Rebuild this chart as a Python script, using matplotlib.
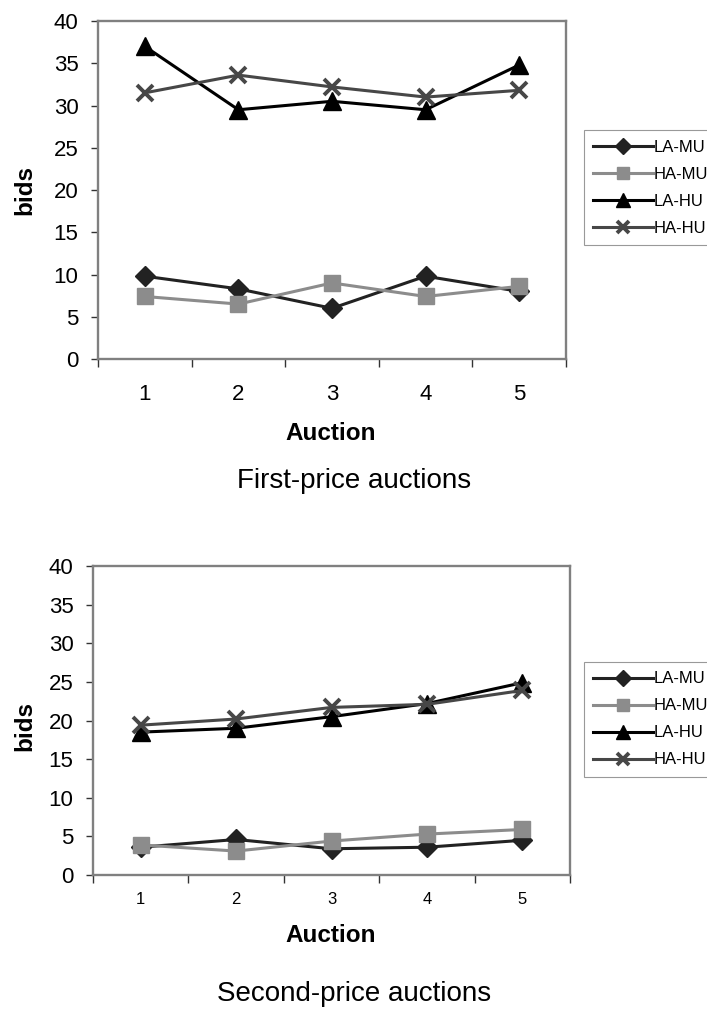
import matplotlib
matplotlib.use("Agg")
import matplotlib.pyplot as plt
from matplotlib.ticker import FixedLocator, NullFormatter, FixedFormatter

plt.rcParams['font.family'] = ['Liberation Sans', 'DejaVu Sans']

auctions = [1, 2, 3, 4, 5]
series_names = ['LA-MU', 'HA-MU', 'LA-HU', 'HA-HU']

# first-price auctions: average bids per treatment
fp_la_mu = [9.8, 8.3, 6.0, 9.8, 8.0]
fp_ha_mu = [7.4, 6.5, 9.0, 7.4, 8.6]
fp_la_hu = [37.0, 29.5, 30.5, 29.5, 34.8]
fp_ha_hu = [31.5, 33.6, 32.2, 31.0, 31.8]

# second-price auctions
sp_la_mu = [3.6, 4.6, 3.4, 3.6, 4.5]
sp_ha_mu = [3.9, 3.1, 4.4, 5.3, 5.9]
sp_la_hu = [18.5, 19.0, 20.5, 22.2, 24.9]
sp_ha_hu = [19.4, 20.2, 21.7, 22.1, 23.9]

styles = {
    'LA-MU': dict(color='#222222', marker='D', markersize=10.5),
    'HA-MU': dict(color='#8c8c8c', marker='s', markersize=11.5),
    'LA-HU': dict(color='#000000', marker='^', markersize=12.5),
    'HA-HU': dict(color='#474747', marker='x', markersize=11, markeredgewidth=2.8),
}


def draw_panel(ax, data, leg_top, xtick_size, xtick_pad):
    for name, vals in zip(series_names, data):
        st = styles[name]
        ax.plot(auctions, vals, linewidth=2.2, label=name, clip_on=False,
                markerfacecolor=st['color'], markeredgecolor=st['color'], **st)
    ax.set_xlim(0.5, 5.5)
    ax.set_ylim(0, 40)
    ax.set_yticks(range(0, 41, 5))
    ax.tick_params(axis='y', direction='out', length=5, width=1, color='#333333',
                   labelsize=16, pad=9)
    # category boundaries carry the tick marks, centres carry the labels
    ax.xaxis.set_major_locator(FixedLocator([0.5, 1.5, 2.5, 3.5, 4.5, 5.5]))
    ax.xaxis.set_major_formatter(NullFormatter())
    ax.xaxis.set_minor_locator(FixedLocator(auctions))
    ax.xaxis.set_minor_formatter(FixedFormatter([str(a) for a in auctions]))
    ax.tick_params(axis='x', which='major', direction='out', length=6, width=1,
                   color='#333333')
    ax.tick_params(axis='x', which='minor', length=0, labelsize=xtick_size,
                   pad=xtick_pad)
    for sp in ax.spines.values():
        sp.set_color('#808080')
        sp.set_linewidth(1.7)
    leg = ax.legend(loc='upper left', frameon=True, fancybox=False,
                    fontsize=12, handlelength=3.6, handletextpad=0.05,
                    labelspacing=0.72, borderpad=0.55, borderaxespad=0,
                    markerscale=0.8,
                    bbox_transform=ax.figure.transFigure,
                    bbox_to_anchor=(0.826, leg_top))
    leg.get_frame().set_edgecolor('#808080')
    leg.get_frame().set_linewidth(0.8)


fig = plt.figure(figsize=(7.07, 10.11), dpi=100)

ax1 = fig.add_axes([0.1386, 0.6449, 0.662, 0.3343])
draw_panel(ax1, [fp_la_mu, fp_ha_mu, fp_la_hu, fp_ha_hu], 0.871, 16, 18)

ax2 = fig.add_axes([0.1315, 0.1345, 0.675, 0.3056])
draw_panel(ax2, [sp_la_mu, sp_ha_mu, sp_la_hu, sp_ha_hu], 0.345, 12, 12)

# axis titles and panel captions
fig.text(331 / 707, 1 - 433 / 1011, 'Auction', ha='center', va='center',
         fontsize=17.5, fontweight='bold')
fig.text(25 / 707, 1 - 190 / 1011, 'bids', ha='center', va='center',
         fontsize=17.5, fontweight='bold', rotation=90)
fig.text(354 / 707, 1 - 481 / 1011, 'First-price auctions', ha='center',
         va='center', fontsize=20)

fig.text(331 / 707, 1 - 936 / 1011, 'Auction', ha='center', va='center',
         fontsize=17.5, fontweight='bold')
fig.text(25 / 707, 1 - 726 / 1011, 'bids', ha='center', va='center',
         fontsize=17.5, fontweight='bold', rotation=90)
fig.text(354 / 707, 1 - 994 / 1011, 'Second-price auctions', ha='center',
         va='center', fontsize=20)

fig.savefig('out.png', dpi=100)
